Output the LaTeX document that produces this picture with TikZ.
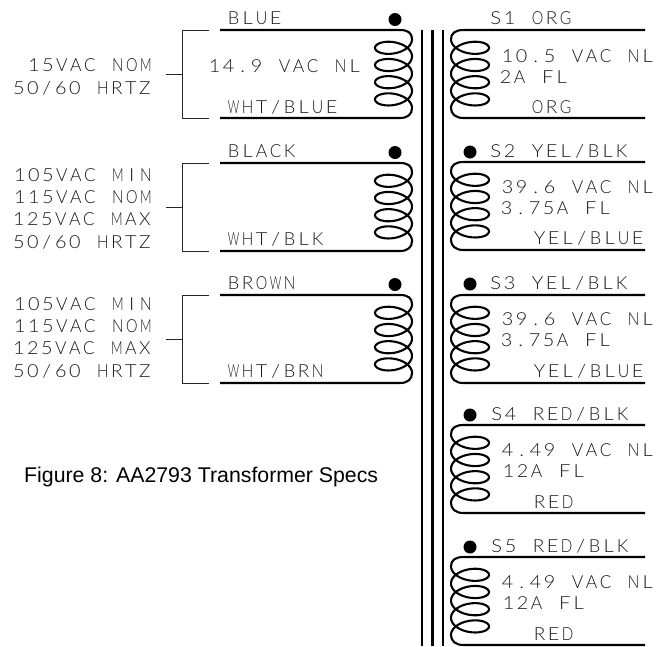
\documentclass[tikz,border=0pt]{standalone}
\usepackage{fontspec}
\setmainfont{Liberation Sans}
\newfontfamily\cadfont[FakeStretch=1.12]{Lato Light}
\def\cadglyph#1{\setbox0=\hbox{#1}\ifdim\wd0>11.5pt\resizebox{11.5pt}{\height}{#1}\else#1\fi}
\def\cadscan#1{\ifx#1\relax\else\makebox[14pt]{\cadglyph{#1}}\expandafter\cadscan\fi}
\def\cad#1{\cadscan#1\relax}
\tikzset{
    wire/.style={line width=2.1pt},
    brack/.style={line width=0.8pt, black!85},
    core/.style={line width=2.4pt},
    lbl/.style={inner sep=0pt, anchor=base west, xshift=-1.5pt, text=black!90, font=\cadfont\fontsize{18}{18}\selectfont},
    lblr/.style={lbl, anchor=base east, xshift=1.5pt},
    fig/.style={inner sep=0pt, anchor=base west, font=\fontsize{21.3}{24}\selectfont},
    dotmark/.style={circle, fill=black, inner sep=0pt, minimum size=13pt}
}
\begin{document}
\begin{tikzpicture}[x=1pt, y=-1pt]
        \def\coilp(#1,#2){.. controls (#1+14.5,#2) and (#1+18.5,#2+3) .. (#1+18.5,#2+9.2)
            plot[domain=0:1440, samples=160, smooth] ({#1+18.5*cos(\x)},{#2+9.2+10*sin(\x)+0.04778*\x})
            .. controls (#1+18.5,#2+84) and (#1+14.5,#2+88) .. (#1+6.5,#2+88)}
        \def\coils(#1,#2){.. controls (#1-14.5,#2) and (#1-19,#2+3) .. (#1-19,#2+9.2)
            plot[domain=0:1440, samples=160, smooth] ({#1-19*cos(\x)},{#2+9.2+10*sin(\x)+0.04778*\x})
            .. controls (#1-19,#2+84) and (#1-14.5,#2+88) .. (#1-6.5,#2+88)}

        \useasboundingbox (0, 0) rectangle (671, 646);

        % core
        \foreach \n/\x in {a/422, b/432.5, c/443} {
            \coordinate (core\n top) at (\x, 30);
            \coordinate (core\n bot) at (\x, 646);
            \draw[core] (core\n top) -- (core\n bot);
        }

        % primaries
        \foreach \n/\y in {a/30, b/163, c/295} {
            \coordinate (p\n top) at (220, \y);
            \coordinate (p\n topc) at (400, \y);
            \coordinate (p\n bot) at (220, \y+88);
            \draw[wire] (p\n top) -- (p\n topc) \coilp(393.5,\y) -- (p\n bot);
            \node[dotmark] (p\n dot) at (395, \y-10.5) {};
            % bracket
            \coordinate (br\n a) at (209, \y);
            \coordinate (br\n b) at (182, \y);
            \coordinate (br\n c) at (182, \y+88);
            \coordinate (br\n d) at (209, \y+88);
            \coordinate (br\n e) at (182, \y+44);
            \coordinate (br\n f) at (166, \y+44);
            \draw[brack] (br\n a) -- (br\n b) -- (br\n c) -- (br\n d);
            \draw[brack] (br\n e) -- (br\n f);
        }

        % secondaries
        \foreach \n/\y in {a/30, b/162, c/295, d/425, e/557} {
            \coordinate (s\n top) at (645, \y);
            \coordinate (s\n topc) at (463.5, \y);
            \coordinate (s\n bot) at (645, \y+88);
            \draw[wire] (s\n top) -- (s\n topc) \coils(470,\y) -- (s\n bot);
        }
        \foreach \n/\y in {b/152, c/284, d/415, e/547}
            \node[dotmark] (s\n dot) at (470, \y) {};

        % primary text
        \node[lbl] (blue) at (228, 24) {\cad{BLUE}};
        \node[lbl] (nla) at (209, 72) {\cad{14.9~VAC~NL}};
        \node[lbl] (whtblue) at (228, 113) {\cad{WHT/BLUE}};
        \node[lbl] (black) at (228, 157) {\cad{BLACK}};
        \node[lbl] (whtblk) at (228, 245) {\cad{WHT/BLK}};
        \node[lbl] (brown) at (228, 289) {\cad{BROWN}};
        \node[lbl] (whtbrn) at (228, 377) {\cad{WHT/BRN}};

        \node[lblr] (noma) at (153, 71) {\cad{15VAC~NOM}};
        \node[lblr] (hza) at (152, 94) {\cad{50/60~HRTZ}};
        \foreach \n/\y in {b/181, c/310} {
            \node[lblr] (min\n) at (153, \y) {\cad{105VAC~MIN}};
            \node[lblr] (nom\n) at (153, \y+22) {\cad{115VAC~NOM}};
            \node[lblr] (max\n) at (152, \y+44) {\cad{125VAC~MAX}};
            \node[lblr] (hz\n) at (152, \y+67) {\cad{50/60~HRTZ}};
        }

        % secondary text
        \node[lbl] (sa) at (490, 24) {\cad{S1~ORG}};
        \node[lbl] (sanl) at (502, 62) {\cad{10.5~VAC~NL}};
        \node[lbl] (safl) at (500, 83) {\cad{2A~FL}};
        \node[lbl] (saend) at (532, 113) {\cad{ORG}};
        \node[lbl] (sb) at (490, 157) {\cad{S2~YEL/BLK}};
        \node[lbl] (sbnl) at (502, 193) {\cad{39.6~VAC~NL}};
        \node[lbl] (sbfl) at (501, 214) {\cad{3.75A~FL}};
        \node[lbl] (sbend) at (534, 244) {\cad{YEL/BLUE}};
        \node[lbl] (sc) at (490, 289) {\cad{S3~YEL/BLK}};
        \node[lbl] (scnl) at (502, 325) {\cad{39.6~VAC~NL}};
        \node[lbl] (scfl) at (501, 346) {\cad{3.75A~FL}};
        \node[lbl] (scend) at (534, 377) {\cad{YEL/BLUE}};
        \node[lbl] (sd) at (491, 420) {\cad{S4~RED/BLK}};
        \node[lbl] (sdnl) at (502, 456) {\cad{4.49~VAC~NL}};
        \node[lbl] (sdfl) at (503, 477) {\cad{12A~FL}};
        \node[lbl] (sdend) at (534, 508) {\cad{RED}};
        \node[lbl] (se) at (491, 552) {\cad{S5~RED/BLK}};
        \node[lbl] (senl) at (502, 588) {\cad{4.49~VAC~NL}};
        \node[lbl] (sefl) at (503, 609) {\cad{12A~FL}};
        \node[lbl] (seend) at (534, 640) {\cad{RED}};

        \node[fig] (caption) at (24, 482) {Figure 8: AA2793 Transformer Specs};
    \end{tikzpicture}
\end{document}
